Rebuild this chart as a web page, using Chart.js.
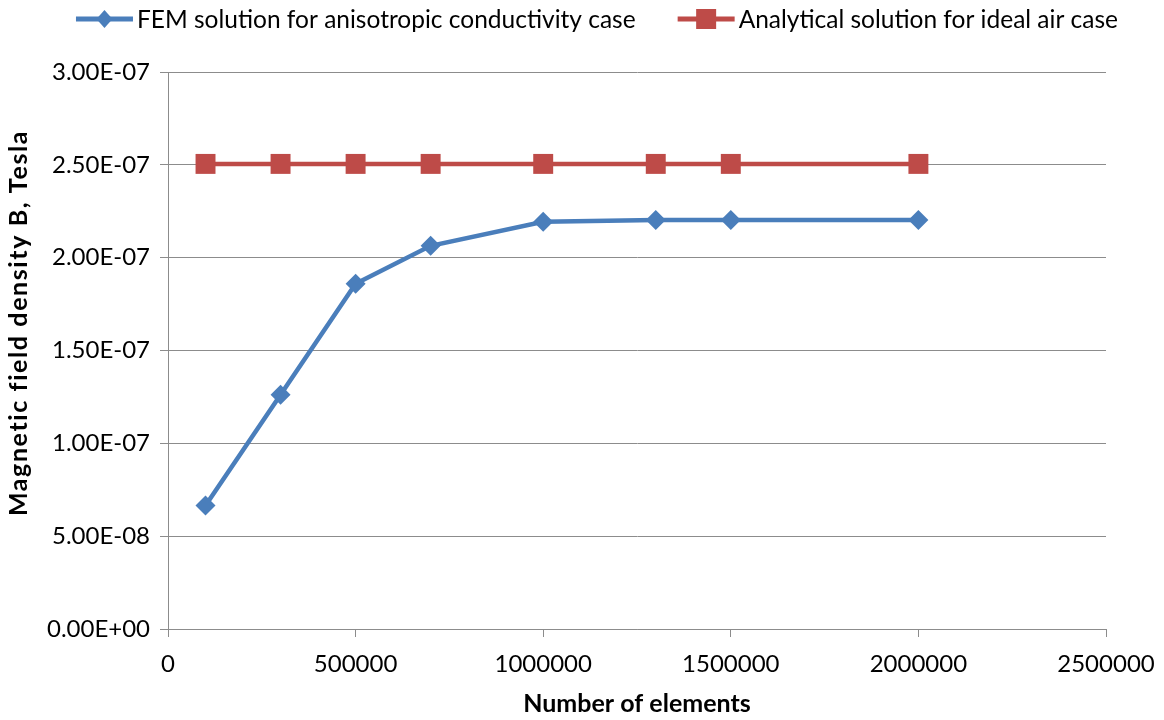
<!DOCTYPE html>
<html>
<head>
<meta charset="utf-8">
<script src="https://cdn.jsdelivr.net/npm/chart.js@4/dist/chart.umd.min.js"></script>
<style>
html,body{margin:0;padding:0;background:#fff;}
#wrap{width:1164px;height:720px;position:relative;}
</style>
</head>
<body>
<div id="wrap"><canvas id="c" width="1164" height="720"></canvas></div>
<script>
const elements = [100000, 300000, 500000, 700000, 1000000, 1300000, 1500000, 2000000];
const femValues = [6.65e-8, 1.262e-7, 1.86e-7, 2.064e-7, 2.193e-7, 2.203e-7, 2.203e-7, 2.203e-7];
const analyticalValues = [2.505e-7, 2.505e-7, 2.505e-7, 2.505e-7, 2.505e-7, 2.505e-7, 2.505e-7, 2.505e-7];
const seriesNames = ['FEM solution for anisotropic conductivity case', 'Analytical solution for ideal air case'];
const xTitle = 'Number of elements';
const yTitle = 'Magnetic field density B, Tesla';

const FONT = 'Lato, "Open Sans", sans-serif';
const BLUE = '#4A7EBB';
const RED = '#BE4B48';
const GRID = '#8C8C8C';

function fmtExp(v) {
  let s = Number(v).toExponential(2);
  let [m, e] = s.split('e');
  let sign = e[0] === '-' ? '-' : '+';
  let d = e.replace(/[+-]/, '');
  if (d.length < 2) d = '0' + d;
  return m + 'E' + sign + d;
}

function drawMarker(ctx, style, x, y, color) {
  ctx.save();
  ctx.fillStyle = color;
  ctx.beginPath();
  if (style === 'rectRot') {
    const rx = 8, ry = 9;
    ctx.moveTo(x - rx, y); ctx.lineTo(x, y - ry); ctx.lineTo(x + rx, y); ctx.lineTo(x, y + ry);
  } else {
    const h = 10;
    ctx.rect(x - h, y - h, 2 * h, 2 * h);
  }
  ctx.closePath();
  ctx.fill();
  ctx.restore();
}

const customLegend = {
  id: 'customLegend',
  afterDraw(chart) {
    const ctx = chart.ctx;
    ctx.save();
    ctx.font = '24.5px ' + FONT;
    ctx.fillStyle = '#000';
    ctx.textBaseline = 'middle';
    const sym = 57, gap = 4, spacing = 42;
    const items = chart.data.datasets.map(ds => ({ds, w: ctx.measureText(ds.label).width}));
    let total = 0;
    items.forEach((it, i) => { total += sym + gap + it.w + (i ? spacing : 0); });
    let x = 597 - total / 2;
    const y = 19;
    items.forEach((it, i) => {
      if (i) x += spacing;
      ctx.strokeStyle = it.ds.borderColor;
      ctx.lineWidth = 5;
      ctx.beginPath(); ctx.moveTo(x, y); ctx.lineTo(x + sym, y); ctx.stroke();
      drawMarker(ctx, it.ds.pointStyle, x + sym / 2, y, it.ds.backgroundColor);
      x += sym + gap;
      ctx.fillStyle = '#000';
      ctx.textAlign = 'left';
      ctx.fillText(it.ds.label, x, y + 1);
      x += it.w;
    });
    // y axis title
    ctx.save();
    ctx.translate(19, 323);
    ctx.rotate(-Math.PI / 2);
    ctx.font = 'bold 25px ' + FONT;
    try { ctx.letterSpacing = '1.6px'; } catch (e) {}
    ctx.textAlign = 'center';
    ctx.textBaseline = 'middle';
    ctx.fillText(yTitle, 0, 0);
    ctx.restore();
    ctx.restore();
  }
};

new Chart(document.getElementById('c'), {
  type: 'line',
  data: {
    datasets: [
      {
        label: seriesNames[0],
        data: elements.map((x, i) => ({x, y: femValues[i]})),
        borderColor: BLUE, backgroundColor: BLUE,
        borderWidth: 4.5, pointStyle: 'rectRot', pointRadius: 10, pointHoverRadius: 10,
        pointBorderWidth: 0, tension: 0
      },
      {
        label: seriesNames[1],
        data: elements.map((x, i) => ({x, y: analyticalValues[i]})),
        borderColor: RED, backgroundColor: RED,
        borderWidth: 4.5, pointStyle: 'rect', pointRadius: 14.1, pointHoverRadius: 14.1,
        pointBorderWidth: 0, tension: 0
      }
    ]
  },
  options: {
    responsive: false,
    animation: false,
    layout: {padding: {top: 72, right: 58, bottom: 0, left: 0}},
    plugins: {legend: {display: false}, tooltip: {enabled: false}},
    scales: {
      x: {
        type: 'linear', min: 0, max: 2500000,
        ticks: {stepSize: 500000, color: '#000', font: {family: FONT, size: 24}, padding: 13,
          callback: v => String(v), maxRotation: 0},
        grid: {drawOnChartArea: false, drawTicks: true, tickLength: 8, color: GRID},
        border: {display: true, color: GRID, width: 1},
        title: {display: true, text: xTitle, color: '#000', font: {family: FONT, size: 25, weight: 'bold'}, padding: {top: 0, bottom: 1}},
        afterFit: s => { s.height = 91; s.paddingRight = 0; s.paddingLeft = 0; }
      },
      y: {
        min: 0, max: 3e-7,
        ticks: {stepSize: 5e-8, color: '#000', font: {family: FONT, size: 24}, padding: 10,
          callback: v => fmtExp(v)},
        grid: {color: GRID, tickLength: 8, drawTicks: true},
        border: {display: true, color: GRID, width: 1},
        afterFit: s => { s.width = 168; }
      }
    }
  },
  plugins: [customLegend]
});
</script>
</body>
</html>
